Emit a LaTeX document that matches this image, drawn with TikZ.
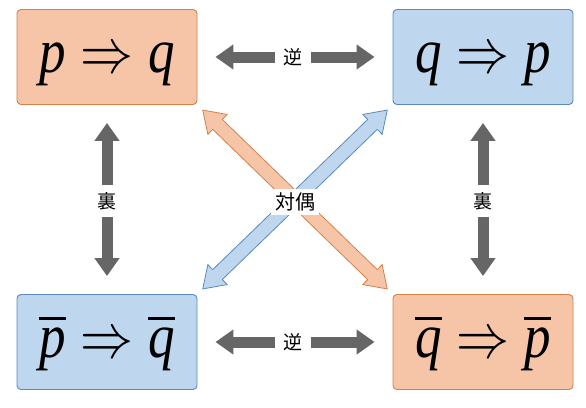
\documentclass[tikz,border=0pt]{standalone}
\usepackage{fontspec}
\newfontfamily\jpfont{Noto Sans CJK JP}
\newfontfamily\letfont{Liberation Serif}
\usetikzlibrary{arrows.meta,shapes.arrows}

\definecolor{orgfill}{RGB}{246,197,168}
\definecolor{orgline}{RGB}{214,128,72}
\definecolor{bluefill}{RGB}{190,215,238}
\definecolor{blueline}{RGB}{88,138,190}
\definecolor{arrgray}{RGB}{102,102,102}

% big formula, lowered a little inside its box
\newcommand{\bigstmt}[1]{\raisebox{-15pt}[0pt][0pt]{\scalebox{5.3}[6.3]{$#1$}}}
\newcommand{\lt}[1]{\mbox{\letfont\itshape #1}}

\begin{document}
\begin{tikzpicture}[x=1pt, y=-1pt,
  stmt/.style={draw, rounded corners=4pt, line width=0.9pt,
    minimum width=180pt, minimum height=95pt, inner sep=0pt},
  orgbox/.style={stmt, draw=orgline, fill=orgfill},
  bluebox/.style={stmt, draw=blueline, fill=bluefill},
  lbl/.style={font=\jpfont\fontsize{19}{19}\selectfont,
    inner xsep=8pt, inner ysep=7pt},
  grayarrow/.style={draw=arrgray, line width=11pt,
    -{Triangle[length=18pt,width=24pt]}, shorten >=18pt},
  fatarrow/.style={double arrow, line width=0.8pt, inner xsep=0pt,
    inner ysep=6.5pt, minimum width=0pt, minimum height=257pt,
    double arrow head extend=7pt, double arrow tip angle=68}]

  % Frame
  \useasboundingbox (0,0) rectangle (586,407);

  % The four statements
  \node[orgbox]  (P)    at (107,57)  {\bigstmt{\lt{p} \Rightarrow \lt{q}}};
  \node[bluebox] (Q)    at (483,57)  {\bigstmt{\lt{q} \Rightarrow \lt{p}}};
  \node[bluebox] (Pbar) at (107,342)
    {\bigstmt{\overline{\lt{p}} \Rightarrow \overline{\lt{q}}}};
  \node[orgbox]  (Qbar) at (483,342)
    {\bigstmt{\overline{\lt{q}} \Rightarrow \overline{\lt{p}}}};

  % Labels between them
  \node[lbl] (convT) at (293,57)  {逆};
  \node[lbl] (convB) at (293,342) {逆};
  \node[lbl] (invL)  at (107,201) {裏};
  \node[lbl] (invR)  at (483,201) {裏};

  % Converse and inverse arrows
  \draw[grayarrow] (convT) -- (P);
  \draw[grayarrow] (convT) -- (Q);
  \draw[grayarrow] (convB) -- (Pbar);
  \draw[grayarrow] (convB) -- (Qbar);
  \draw[grayarrow] (invL) -- (P);
  \draw[grayarrow] (invL) -- (Pbar);
  \draw[grayarrow] (invR) -- (Q);
  \draw[grayarrow] (invR) -- (Qbar);

  % Contrapositive: two crossing double arrows
  \path (Q.south west) -- (Pbar.north east)
    node[midway, sloped, fatarrow, draw=blueline, fill=bluefill] {};
  \path (P.south east) -- (Qbar.north west)
    node[midway, sloped, fatarrow, draw=orgline, fill=orgfill] {};
  \node[lbl, fill=white, inner sep=4pt,
    font=\jpfont\fontsize{20}{20}\selectfont] (contra) at (295,202) {対偶};

\end{tikzpicture}
\end{document}
